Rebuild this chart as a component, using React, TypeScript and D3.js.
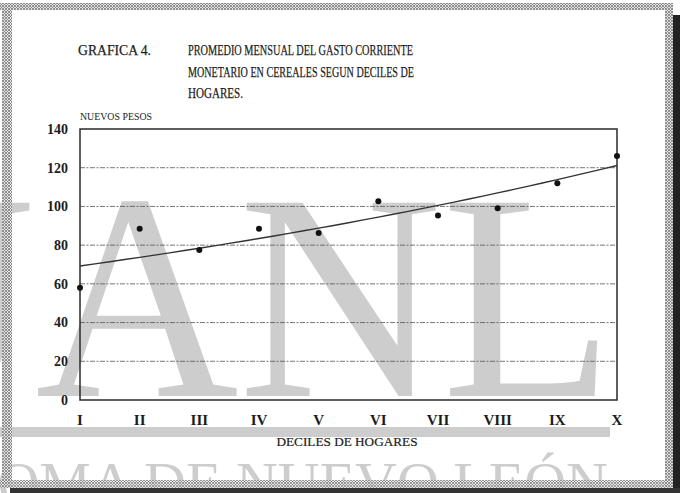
import React from "react";
import * as d3 from "d3";

const categories = ["I", "II", "III", "IV", "V", "VI", "VII", "VIII", "IX", "X"];
const values = [58, 88.5, 77.5, 88.5, 86.3, 102.7, 95.3, 99, 112, 126];
const yTicks = [0, 20, 40, 60, 80, 100, 120, 140];
const titleLeft = "GRAFICA 4.";
const titleLines = [
  "PROMEDIO MENSUAL DEL GASTO CORRIENTE",
  "MONETARIO EN CEREALES SEGUN DECILES DE",
  "HOGARES.",
];
const yAxisTitle = "NUEVOS PESOS";
const xAxisTitle = "DECILES DE HOGARES";
const watermarkBig = "UANL";
const watermarkSmall = "OMA DE NUEVO LEÓN";

const W = 683;
const H = 493;
const L = 80, R = 617, T = 129, B = 400;
const SERIF = "'Liberation Serif', 'Times New Roman', serif";

export default function App() {
  const x = d3.scalePoint<string>().domain(categories).range([L, R]);
  const xi = d3.scaleLinear().domain([0, categories.length - 1]).range([L, R]);
  const y = d3.scaleLinear().domain([0, 140]).range([B, T]);

  // exponential trend line fitted to the data (least squares on log values)
  const idx = values.map((_, i) => i);
  const logs = values.map((v) => Math.log(v));
  const mx = d3.mean(idx) as number;
  const my = d3.mean(logs) as number;
  const sxy = d3.sum(idx.map((i) => (i - mx) * (logs[i] - my)));
  const sxx = d3.sum(idx.map((i) => (i - mx) * (i - mx)));
  const b = sxy / sxx;
  const a = my - b * mx;
  const trendPts = d3.range(0, categories.length - 1 + 0.001, 0.25).map((t) => [t, Math.exp(a + b * t)] as [number, number]);
  const trendPath = d3.line<[number, number]>().x((d) => xi(d[0])).y((d) => y(d[1]))(trendPts) || "";

  const wm = "#cdcdcd";
  const ink = "#1c1c1c";

  return (
    <svg width={W} height={H} style={{ position: "absolute", left: 0, top: 0, background: "#fff" }} fontFamily={SERIF}>
      <defs>
        <pattern id="hatch" width="3" height="3" patternUnits="userSpaceOnUse">
          <rect width="3" height="3" fill="#e4e4e4" />
          <path d="M0,0 L3,3 M3,0 L0,3" stroke="#7a7a7a" strokeWidth="0.8" />
        </pattern>
      </defs>
      <rect x={0} y={0} width={W} height={H} fill="#fff" />

      {/* watermark */}
      <text x={-168} y={396} fontSize={295} fill={wm} textLength={782} lengthAdjust="spacingAndGlyphs">
        {watermarkBig}
      </text>
      <rect x={0} y={427} width={610} height={10} fill={wm} />
      <text x={608} y={502} fontSize={58} fill={wm} textAnchor="end">
        {watermarkSmall}
      </text>

      {/* title */}
      <text x={78} y={55} fontSize={15.5} fill={ink} stroke={ink} strokeWidth={0.25} textLength={73} lengthAdjust="spacingAndGlyphs">
        {titleLeft}
      </text>
      {titleLines.map((t, i) => (
        <text
          key={i}
          x={188}
          y={55 + i * 21.5}
          fontSize={15.5}
          fill={ink}
          stroke={ink}
          strokeWidth={0.25}
          textLength={i === 0 ? 225 : i === 1 ? 226 : 55}
          lengthAdjust="spacingAndGlyphs"
        >
          {t}
        </text>
      ))}
      <text x={80} y={120} fontSize={10} fill={ink} textLength={72} lengthAdjust="spacingAndGlyphs">
        {yAxisTitle}
      </text>

      {/* grid */}
      {yTicks.filter((t) => t > 0 && t < 140).map((t) => (
        <line key={t} x1={L} x2={R} y1={y(t)} y2={y(t)} stroke="#555" strokeWidth={1} strokeDasharray="5 1.5 2 1.5" opacity={0.8} />
      ))}
      <rect x={L} y={T} width={R - L} height={B - T} fill="none" stroke="#2a2a2a" strokeWidth={1.5} />

      {/* y tick labels */}
      {yTicks.map((t) => (
        <text key={t} x={68} y={y(t)} dy="0.35em" fontSize={14} fontWeight="bold" textAnchor="end" fill={ink}>
          {t}
        </text>
      ))}

      {/* x tick labels */}
      {categories.map((c) => (
        <text key={c} x={x(c)} y={425} fontSize={15} fontWeight="bold" textAnchor="middle" fill={ink}>
          {c}
        </text>
      ))}
      <text x={347} y={446} fontSize={13} textAnchor="middle" fill={ink} stroke={ink} strokeWidth={0.2} textLength={141} lengthAdjust="spacingAndGlyphs">
        {xAxisTitle}
      </text>

      {/* trend */}
      <path d={trendPath} fill="none" stroke="#333" strokeWidth={1.4} />

      {/* points */}
      {values.map((v, i) => (
        <circle key={i} cx={x(categories[i])} cy={y(v)} r={3} fill="#111" />
      ))}

      {/* scanned border */}
      <rect x={0} y={3} width={672} height={7} fill="url(#hatch)" />
      <rect x={2} y={3} width={10} height={485} fill="url(#hatch)" />
      <rect x={665} y={3} width={8} height={484} fill="url(#hatch)" />
      <rect x={0} y={480} width={675} height={8} fill="url(#hatch)" opacity={0.9} />
      <rect x={673} y={15} width={7} height={478} fill="#222" />
      <rect x={10} y={488} width={670} height={5} fill="#333" />
    </svg>
  );
}
